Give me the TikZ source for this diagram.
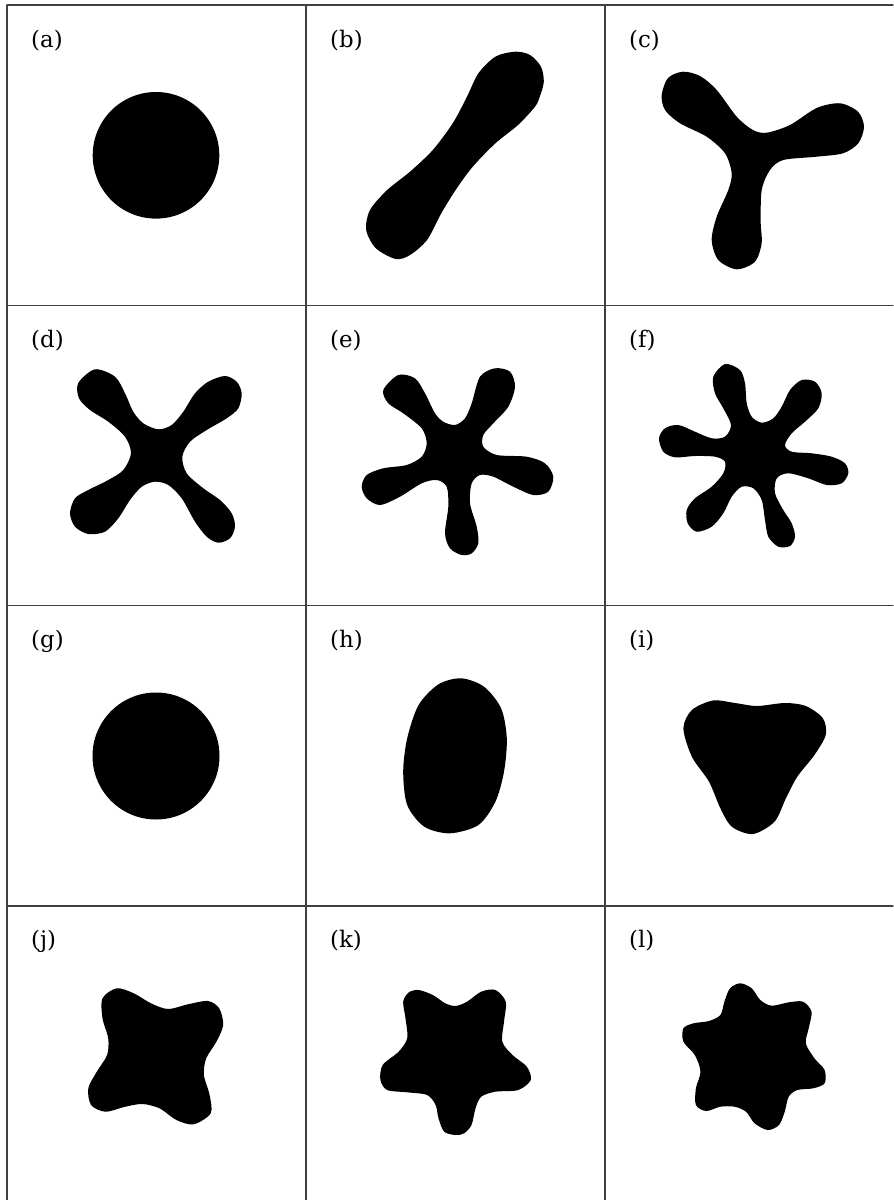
\documentclass[tikz,border=0pt]{standalone}
\usepackage{fontspec}
\setmainfont{DejaVu Serif}
\usepackage{tikz}

\begin{document}
\begin{tikzpicture}[
  x=0.03cm, y=-0.03cm,
  line cap=round,
  line join=round,
  rule/.style={line width=0.9pt, black!75},
  blob/.style={fill=black},
  cellab/.style={anchor=west, inner sep=0pt, font=\fontsize{19.5}{23}\selectfont}
]
  \useasboundingbox (0,0) rectangle (893,1200);

  % The table rules
  \foreach \y in {5,305.5,605.5,906} {\draw[rule] (7,\y) -- (893,\y);}
  \foreach \x in {7,306,605} {\draw[rule] (\x,5) -- (\x,1200);}

  % Labels
  \foreach \lab/\x/\y in {a/31/41, b/330/41, c/629/41,
                          d/31/341, e/330/341, f/629/341,
                          g/31/641, h/330/641, i/629/641,
                          j/31/941, k/330/941, l/629/941}
    {\node[cellab] (lbl\lab) at (\x,\y) {(\lab)};}

  % Strongly perturbed shapes
  \fill[blob] (156,155.3) circle[radius=63.3];
  \fill[blob] plot[smooth cycle] coordinates {
    (515.4,51.7) (530,55) (541,66.7) (543.8,81.7) (540,96) (535,106.7)
    (518,125) (495.4,143.3) (472.7,166.7) (455.6,190) (441.3,213.3)
    (427,240) (410,255) (395.8,259) (375.9,248.3) (366.2,230) (370,210)
    (387.2,190) (410,171.7) (432.8,150) (452.7,123.3) (467,96.7)
    (478.4,73.3) (495.4,56.7)};
  \fill[blob] plot[smooth cycle] coordinates {
    (683,71.7) (700,76) (716.7,90) (736.7,116.7) (753,130) (766.7,132.7)
    (790,125) (816.7,108) (840,103.3) (858,111.7) (864,126.7) (858.3,143.3)
    (843,153.3) (816.7,156.7) (783.3,160) (770,170) (761.7,190)
    (760.7,223) (761.7,243) (755,261.7) (736.7,269.3) (718.3,260)
    (711.7,240) (716.7,216.7) (728.3,190) (731.7,173.3) (725,153.3)
    (706.7,136.7) (680,123.3) (665,110) (661.7,95) (668,78)};
  \fill[blob] plot[smooth cycle] coordinates {
    (95,369.3) (115,376.7) (125,393.3) (133.3,411.7) (143.3,423.3)
    (158.3,429.3) (171.7,425) (183.3,411.7) (195,393.3) (208.3,381.7)
    (225,376) (236.7,381.7) (241.7,393.3) (238.3,408.3) (226.7,418.3)
    (206.7,430) (190,441.7) (182.3,456.7) (186.7,473.3) (203.3,488.3)
    (220,500) (231.7,513.3) (235,526.7) (230,538.3) (218.3,542.7)
    (206.7,536.7) (195,521.7) (181.7,498.3) (168.3,485) (155,481.7)
    (141.7,486.7) (130,500) (118.3,518.3) (105,531.7) (88.3,534)
    (75,526.7) (70,513.3) (75,498.3) (88.3,490) (108.3,480) (123.3,470)
    (131,453.3) (125,436.7) (108.3,421.7) (90,410) (79,398.3) (78.3,383)};
  \fill[blob] plot[smooth cycle] coordinates {
    (398.3,375) (415,378.3) (425,393.3) (435,413.3) (443.3,421.7)
    (455,425) (465,418.3) (471.7,403.3) (480,376.7) (495,368.3)
    (510,371.7) (515,386.7) (508.3,406.7) (493.3,423.3) (483.3,435)
    (483.3,446.7) (496.7,455) (526.7,456.7) (545,463.3) (553.3,476.7)
    (548.3,491.7) (533.3,495) (513.3,486.7) (493.3,476.7) (480,475)
    (471.7,483.3) (470,503.3) (476.7,526.7) (478.3,543.3) (471.7,553.3)
    (461.7,555) (450,548.3) (445,533.3) (448.3,506.7) (446.7,486.7)
    (436.7,480) (421.7,483.3) (400,496.7) (380,505) (366.7,498.3)
    (361.7,486.7) (366.7,475) (383.3,468.3) (406.7,465) (421.7,456.7)
    (426.7,443.3) (421.7,428.3) (403.3,413.3) (388.3,403.3) (383.3,390)};
  \fill[blob] plot[smooth cycle] coordinates {
    (725,364) (740,370) (745,383.3) (746.7,403.3) (751.7,416.7)
    (761.7,422.7) (773.3,418.3) (781.7,406.7) (790,390) (801.7,380)
    (815,381.7) (821.7,393.3) (818.3,408.3) (805,421.7) (791.7,433.3)
    (785,445) (791.7,451.7) (811.7,453.3) (831.7,456.7) (845,463.3)
    (848.3,473.3) (841.7,483.3) (826.7,485) (808.3,478.3) (788.3,473.3)
    (776.7,478.3) (775,493.3) (783.3,510) (791.7,523.3) (795,536.7)
    (790,546) (778.3,546.7) (768.3,536.7) (765,520) (761.7,500)
    (753.3,488.3) (741.7,486.7) (731.7,496.7) (723.3,513.3) (711.7,526.7)
    (696.7,531.7) (687.7,523.3) (686.7,510) (695,498.3) (711.7,486.7)
    (723.3,473.3) (725,461.7) (715,456.7) (695,456) (675,457.3)
    (663.3,451.7) (659,438.3) (665,428.3) (678.3,425) (695,431.7)
    (711.7,438.3) (725,436.7) (731,425) (723.3,408.3) (715,393.3)
    (713.3,376.7)};

  % Weakly perturbed shapes
  \fill[blob] (156,756) circle[radius=63.5];
  \fill[blob] plot[smooth cycle] coordinates {
    (461.3,678.3) (484,686.7) (501.1,708.3) (506.8,738.3) (504,771.7)
    (495.4,801.7) (478.4,825) (449.9,833.3) (424.3,826.7) (407.2,805)
    (403.2,771.7) (407.2,738.3) (418.6,705) (438.5,684.3)};
  \fill[blob] plot[smooth cycle] coordinates {
    (713,700.5) (735,703) (757,706) (785,703) (805.8,706) (822.9,718.3)
    (825.7,735) (814.4,755) (797.3,776.7) (785.9,798.3) (774.5,821.7)
    (752.8,834) (731.8,826.7) (720.4,808.3) (709,781.7) (691.9,756.7)
    (683.4,728.3) (691.9,710)};
  \fill[blob] plot[smooth cycle] coordinates {
    (116.7,988.3) (133.8,993.3) (150.9,1003.3) (168,1009) (187.9,1004.3)
    (207.9,1001) (219.2,1008.3) (223.2,1025) (216.4,1041.7) (206.2,1058.3)
    (203.9,1075) (209.6,1095) (210.7,1113.3) (193.6,1124.3) (176.5,1120)
    (159.5,1108.3) (142.4,1104) (125.3,1106.7) (105.4,1111.7) (91.1,1105)
    (88.3,1088.3) (96.8,1071.7) (107.1,1055) (108.2,1038.3) (102.5,1018.3)
    (102.5,998.3)};
  \fill[blob] plot[smooth cycle] coordinates {
    (418.6,990) (432.8,995) (445.3,1003.3) (455.6,1006) (467,1001.7)
    (481.2,991.7) (495.4,990) (505.7,1001.7) (504,1021.7) (502.3,1041.7)
    (512.5,1055) (526.8,1066.7) (530.8,1080) (518.2,1090) (495.4,1091.7)
    (481.2,1096.7) (475.5,1108.3) (471.5,1125) (464.1,1133.3) (455.6,1135)
    (444.2,1131.7) (438.5,1118.3) (435.6,1105) (427.1,1095) (407.2,1092.3)
    (387.2,1090) (380.4,1080) (382.7,1065) (398.6,1051.7) (407.2,1038.3)
    (405.5,1018.3) (403.2,1001.7) (408.9,992.3)};
  \fill[blob] plot[smooth cycle] coordinates {
    (740.3,983.3) (751.7,988.3) (760.3,1000) (771.6,1005.7) (788.7,1002.3)
    (803,1001.7) (811.5,1011.7) (808.7,1028.3) (805.8,1043.3) (814.4,1058.3)
    (824.6,1070) (824.6,1083.3) (813.2,1088.3) (797.3,1090) (788.7,1096.7)
    (784.7,1111.7) (779,1125) (767.7,1130) (754.6,1123.3) (746,1111.7)
    (734.6,1106.7) (720.4,1106.7) (706.1,1111) (695.9,1105) (695.9,1088.3)
    (700.5,1071.7) (694.8,1055) (683.4,1041.7) (683.4,1028.3) (693.6,1023.3)
    (709,1021) (720.4,1015) (724.4,1001.7) (730,988.3)};
\end{tikzpicture}
\end{document}
